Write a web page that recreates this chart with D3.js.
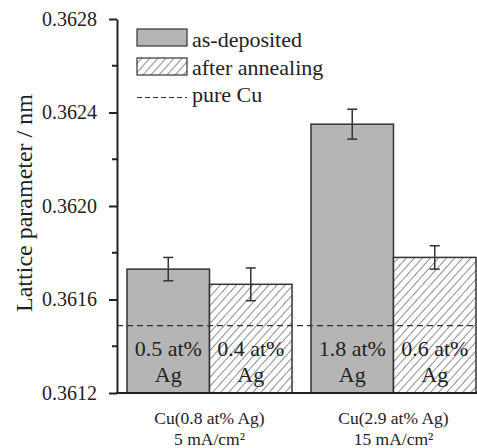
<!DOCTYPE html>
<html>
<head>
<meta charset="utf-8">
<script src="https://cdn.jsdelivr.net/npm/d3@7"></script>
<style>
  body { margin: 0; background: #fff; }
  svg text { font-family: "Liberation Serif", "Times New Roman", Times, serif !important; fill: #222; }
</style>
</head>
<body>
<svg id="chart"></svg>
<script>
// data
const groups = ["g1", "g2"];
const groupLine1 = ["Cu(0.8 at% Ag)", "Cu(2.9 at% Ag)"];
const groupLine2 = ["5 mA/cm²", "15 mA/cm²"];
const series = ["as-deposited", "after annealing"];
const asDeposited = [0.36173, 0.36235];
const asDepositedErr = [0.00005, 0.000064];
const afterAnnealing = [0.361665, 0.36178];
const afterAnnealingErr = [0.00007, 0.00005];
const barLabelTop = [["0.5 at%", "0.4 at%"], ["1.8 at%", "0.6 at%"]];
const barLabelBottom = [["Ag", "Ag"], ["Ag", "Ag"]];
const pureCu = 0.361488;
const yMajorTicks = [0.3612, 0.3616, 0.3620, 0.3624, 0.3628];
const yMinorTicks = [0.3614, 0.3618, 0.3622, 0.3626];
const yTitle = "Lattice parameter / nm";

const width = 477, height = 448;
const svg = d3.select("#chart").attr("width", width).attr("height", height)
  .attr("font-family", "Liberation Serif");

const y = d3.scaleLinear().domain([0.3612, 0.3628]).range([393, 19]);
const x0 = d3.scaleBand().domain(groups).range([127, 476]).paddingInner(0.103).paddingOuter(0);
const x1 = d3.scaleBand().domain(series).range([0, x0.bandwidth()]).padding(0);

// hatch pattern
const defs = svg.append("defs");
const hatch = defs.append("pattern")
  .attr("id", "hatch")
  .attr("patternUnits", "userSpaceOnUse")
  .attr("width", 6)
  .attr("height", 6)
  .attr("patternTransform", "rotate(42)");
hatch.append("rect").attr("width", 6).attr("height", 6).attr("fill", "#fff");
hatch.append("line")
  .attr("x1", 0).attr("y1", 0).attr("x2", 0).attr("y2", 6)
  .attr("stroke", "#333").attr("stroke-width", 1.1);

const rows = groups.map((g, i) => [
  { g, i, j: 0, s: series[0], v: asDeposited[i], e: asDepositedErr[i] },
  { g, i, j: 1, s: series[1], v: afterAnnealing[i], e: afterAnnealingErr[i] },
]).flat();

// bars
svg.append("g").selectAll("rect")
  .data(rows)
  .join("rect")
  .attr("x", (d) => x0(d.g) + x1(d.s))
  .attr("y", (d) => y(d.v))
  .attr("width", x1.bandwidth())
  .attr("height", (d) => y(0.3612) - y(d.v))
  .attr("fill", (d) => (d.j === 0 ? "#b5b5b5" : "url(#hatch)"))
  .attr("stroke", "#333")
  .attr("stroke-width", 1.5);

// error bars
const err = svg.append("g").attr("stroke", "#333").attr("stroke-width", 1.5);
rows.forEach((d) => {
  const cx = x0(d.g) + x1(d.s) + x1.bandwidth() / 2;
  err.append("line").attr("x1", cx).attr("x2", cx).attr("y1", y(d.v + d.e)).attr("y2", y(d.v - d.e));
  err.append("line").attr("x1", cx - 5).attr("x2", cx + 5).attr("y1", y(d.v + d.e)).attr("y2", y(d.v + d.e));
  err.append("line").attr("x1", cx - 5).attr("x2", cx + 5).attr("y1", y(d.v - d.e)).attr("y2", y(d.v - d.e));
});

// pure Cu reference line
svg.append("line")
  .attr("x1", 117).attr("x2", width)
  .attr("y1", y(pureCu)).attr("y2", y(pureCu))
  .attr("stroke", "#333").attr("stroke-width", 1.3)
  .attr("stroke-dasharray", "6,4");

// labels inside bars
rows.forEach((d) => {
  const cx = x0(d.g) + x1(d.s) + x1.bandwidth() / 2;
  svg.append("text").attr("x", cx).attr("y", 356)
    .attr("text-anchor", "middle").attr("font-size", 22)
    .text(barLabelTop[d.i][d.j]);
  svg.append("text").attr("x", cx).attr("y", 382)
    .attr("text-anchor", "middle").attr("font-size", 22)
    .text(barLabelBottom[d.i][d.j]);
});

// y axis
const yAxis = svg.append("g").attr("transform", "translate(117,0)")
  .call(d3.axisLeft(y).tickValues(yMajorTicks).tickFormat(d3.format(".4f")).tickSize(8).tickPadding(12).tickSizeOuter(0));
yAxis.attr("font-family", null).attr("font-size", null);
yAxis.select(".domain").attr("stroke", "#222").attr("stroke-width", 2);
yAxis.selectAll(".tick line").attr("stroke", "#222").attr("stroke-width", 2);
yAxis.selectAll(".tick text")
  .attr("font-size", 20)
  .attr("fill", "#222");
svg.append("g").attr("transform", "translate(117,0)")
  .selectAll("line")
  .data(yMinorTicks)
  .join("line")
  .attr("x1", -5).attr("x2", 0)
  .attr("y1", (d) => y(d)).attr("y2", (d) => y(d))
  .attr("stroke", "#222").attr("stroke-width", 2);

// x axis baseline
svg.append("line")
  .attr("x1", 116).attr("x2", width)
  .attr("y1", y(0.3612)).attr("y2", y(0.3612))
  .attr("stroke", "#222").attr("stroke-width", 2);

// category labels
groups.forEach((g, i) => {
  const cx = x0(g) + x0.bandwidth() / 2;
  svg.append("text").attr("x", cx).attr("y", 424)
    .attr("text-anchor", "middle").attr("font-size", 17.5)
    .text(groupLine1[i]);
  svg.append("text").attr("x", cx).attr("y", 445)
    .attr("text-anchor", "middle").attr("font-size", 17.5)
    .text(groupLine2[i]);
});

// y title
svg.append("text")
  .attr("transform", "translate(32,203) rotate(-90)")
  .attr("text-anchor", "middle")
  .attr("font-size", 24)
  .text(yTitle);

// legend
const legend = svg.append("g").attr("transform", "translate(137,0)");
legend.append("rect").attr("x", 0).attr("y", 29).attr("width", 50).attr("height", 17)
  .attr("fill", "#b5b5b5").attr("stroke", "#333").attr("stroke-width", 1.2);
legend.append("rect").attr("x", 0).attr("y", 58).attr("width", 50).attr("height", 17)
  .attr("fill", "url(#hatch)").attr("stroke", "#333").attr("stroke-width", 1.2);
legend.append("line").attr("x1", 0).attr("x2", 50).attr("y1", 97.5).attr("y2", 97.5)
  .attr("stroke", "#333").attr("stroke-width", 1.2).attr("stroke-dasharray", "5,3");
const legendTexts = [series[0], series[1], "pure Cu"];
const legendY = [46.5, 75, 101.5];
legendTexts.forEach((t, i) => {
  legend.append("text").attr("x", 55).attr("y", legendY[i])
    .attr("font-size", 22).text(t);
});
</script>
</body>
</html>
